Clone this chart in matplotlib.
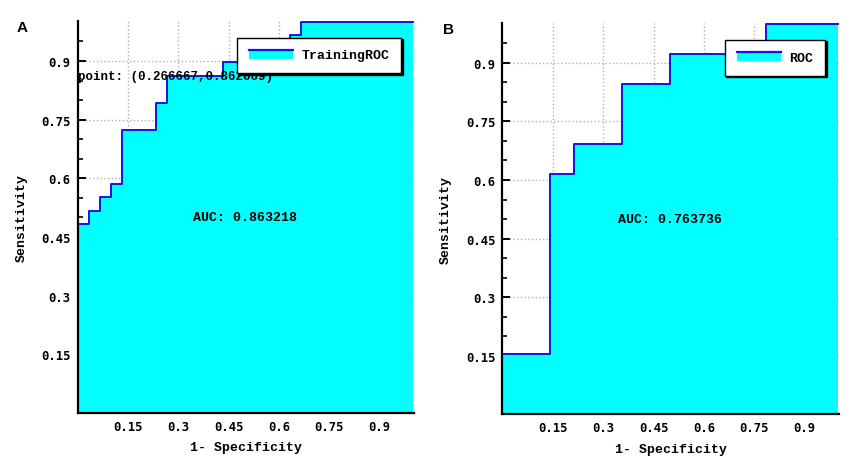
import matplotlib
matplotlib.use('Agg')
import matplotlib.pyplot as plt
from matplotlib.legend_handler import HandlerBase
from matplotlib.patches import Rectangle
from matplotlib.lines import Line2D

# ROC steps (1-specificity, sensitivity)
train_fpr = [0.0, 0.033, 0.067, 0.1, 0.133, 0.233, 0.267, 0.433, 0.5, 0.633, 0.667, 1.0]
train_tpr = [0.483, 0.517, 0.552, 0.586, 0.724, 0.793, 0.862, 0.897, 0.931, 0.966, 1.0, 1.0]
test_fpr = [0.0, 0.143, 0.214, 0.357, 0.5, 0.786, 1.0]
test_tpr = [0.154, 0.615, 0.692, 0.846, 0.923, 1.0, 1.0]

panel_tags = ['A', 'B']
legend_names = ['TrainingROC', 'ROC']
auc_texts = ['AUC: 0.863218', 'AUC: 0.763736']
point_text = 'point: (0.266667,0.862069)'

tick_vals = [0.15, 0.3, 0.45, 0.6, 0.75, 0.9]
tick_labels = ['0.15', '0.3', '0.45', '0.6', '0.75', '0.9']

CYAN = '#00FFFF'
BLUE = '#1414E6'
MONO = 'Liberation Mono'
SANS = 'DejaVu Sans Mono'


class RocHandle(HandlerBase):
    # cyan block with the blue line on top, like the original legend
    def create_artists(self, legend, orig, xd, yd, w, h, fs, trans):
        r = Rectangle((xd, yd), w, h, facecolor=CYAN, edgecolor='none', transform=trans)
        ln = Line2D([xd, xd + w], [yd + h, yd + h], color=BLUE, lw=1.6, transform=trans)
        return [r, ln]


fig = plt.figure(figsize=(8.5, 4.6), dpi=100)
ax_a = fig.add_axes([0.0914, 0.1, 0.3956, 0.852])
ax_b = fig.add_axes([0.591, 0.097, 0.3965, 0.851])

panels = [
    (ax_a, train_fpr, train_tpr, (0.472, 0.866, 0.49, 0.092), (-0.166, 0.984)),
    (ax_b, test_fpr, test_tpr, (0.658, 0.867, 0.30, 0.090), (-0.161, 0.985)),
]

for i, (ax, fpr, tpr, lbox, tagpos) in enumerate(panels):
    ax.fill_between(fpr, tpr, step='post', color=CYAN, lw=0, zorder=1)
    ax.step(fpr, tpr, where='post', color=BLUE, lw=1.4, zorder=2, clip_on=False)

    ax.set_xlim(0, 1.003)
    ax.set_ylim(0, 1.002)
    ax.set_xticks(tick_vals)
    ax.set_xticklabels(tick_labels, family=SANS, fontsize=8.8, fontweight='bold')
    ax.set_yticks(tick_vals)
    ax.set_yticklabels(tick_labels, family=SANS, fontsize=8.8, fontweight='bold')
    ax.set_xticks([v / 20 for v in range(1, 20)], minor=True)
    ax.set_yticks([v / 20 for v in range(1, 20)], minor=True)
    ax.tick_params(which='major', direction='in', length=6, width=1.4, pad=5)
    ax.tick_params(which='minor', direction='in', length=3.5, width=1.2)

    ax.grid(True, which='major', color='#b0b0b0', linestyle=':', linewidth=1)
    ax.set_axisbelow(True)

    for s in ['top', 'right']:
        ax.spines[s].set_visible(False)
    for s in ['left', 'bottom']:
        ax.spines[s].set_linewidth(1.6)
        ax.spines[s].set_zorder(3)

    ax.set_xlabel('1- Specificity', family=MONO, fontsize=9.5, fontweight='bold', labelpad=6)
    ax.set_ylabel('Sensitivity', family=MONO, fontsize=9.5, fontweight='bold', labelpad=10)

    ax.text(0.5, 0.5, auc_texts[i], family=MONO, fontsize=9.5, fontweight='bold',
            ha='center', va='center', zorder=4)

    handle = Rectangle((0, 0), 1, 1)
    leg = ax.legend([handle], [legend_names[i]], handler_map={Rectangle: RocHandle()},
                    loc='upper right', bbox_to_anchor=(lbox[0] + lbox[2], lbox[1] + lbox[3]),
                    frameon=True, fancybox=False, edgecolor='black', framealpha=1,
                    shadow={'color': 'black', 'alpha': 1, 'ox': 1.2, 'oy': -1.2},
                    prop={'family': MONO, 'size': 9.5, 'weight': 'bold'},
                    handlelength=3.4, handleheight=0.65, handletextpad=0.6,
                    borderpad=0.9, borderaxespad=0)
    leg.get_frame().set_linewidth(1.0)
    leg.set_zorder(5)

    ax.text(tagpos[0], tagpos[1], panel_tags[i], transform=ax.transAxes, fontsize=11,
            fontweight='bold', family='Liberation Sans', ha='center', va='center')

ax_a.text(0.0, 0.862, point_text, family=MONO, fontsize=9, fontweight='bold',
          ha='left', va='center', zorder=4)

fig.savefig('out.png', dpi=100)
